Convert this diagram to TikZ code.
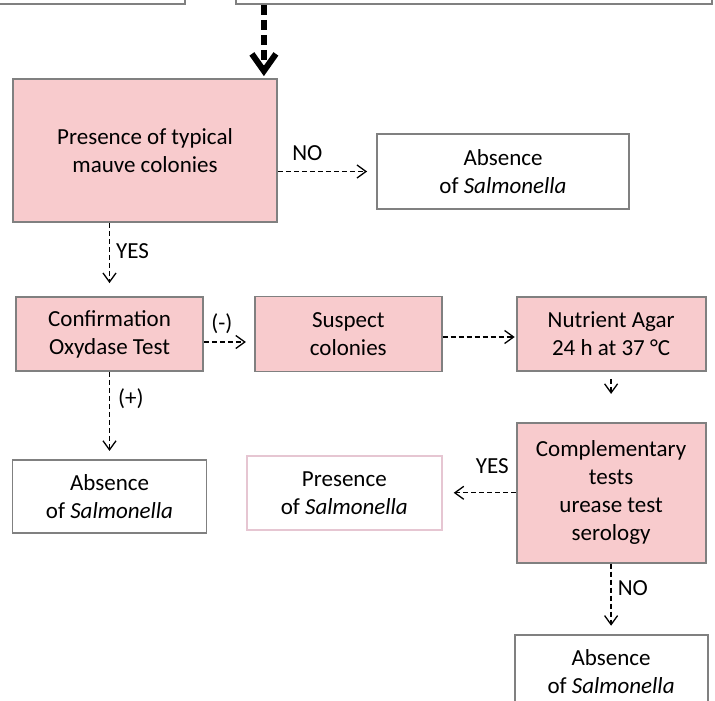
\documentclass[tikz,border=0pt]{standalone}
\usepackage{fontspec}
\setmainfont{Carlito}
\usetikzlibrary{positioning, arrows.meta}

\definecolor{boxpink}{HTML}{F8CBCD}
\definecolor{boxgray}{HTML}{808080}
\definecolor{lightrose}{HTML}{E6C6D2}

\begin{document}
\begin{tikzpicture}[x=1pt, y=-1pt, >={Straight Barb[length=9pt, width=13pt]},
    box/.style={rectangle, draw=boxgray, line width=1.8pt, align=center, inner sep=0pt,
        font=\fontsize{23}{28}\selectfont},
    pinkbox/.style={box, fill=boxpink},
    whitebox/.style={box, fill=white},
    lbl/.style={inner sep=2pt, font=\fontsize{23}{28}\selectfont},
    thin dash/.style={line width=1.3pt, dash pattern=on 5pt off 3pt}]
    \useasboundingbox (0,0) rectangle (715,701);

    \node[whitebox, minimum width=190pt, minimum height=44pt] (topL) at (90,-18) {};
    \node[whitebox, minimum width=476pt, minimum height=44pt] (topR) at (474,-18) {};
    \node[pinkbox, minimum width=264pt, minimum height=143pt] (mauve) at (145,150.5) {Presence of typical\\mauve colonies};
    \node[whitebox, minimum width=252pt, minimum height=75pt] (absA) at (503,171.5) {Absence\\of \textit{Salmonella}};
    \node[pinkbox, minimum width=187pt, minimum height=74pt] (conf) at (109.5,334) {Confirmation\\Oxydase Test};
    \node[pinkbox, minimum width=187pt, minimum height=75pt] (susp) [right=50pt of conf] {Suspect\\colonies};
    \node[pinkbox, minimum width=189pt, minimum height=74pt] (nutr) [right=73pt of susp] {Nutrient Agar\\24 h at 37 °C};
    \node[pinkbox, minimum width=189pt, minimum height=140pt] (comp) [below=50pt of nutr] {Complementary\\tests\\urease test\\serology};
    \node[box, draw=lightrose, fill=white, minimum width=195pt, minimum height=74pt] (pres) [left=73pt of comp] {Presence\\of \textit{Salmonella}};
    \node[whitebox, minimum width=194pt, minimum height=73pt] (absB) [below=87pt of conf] {Absence\\of \textit{Salmonella}};
    \node[whitebox, minimum width=193pt, minimum height=74pt] (absC) [below=70pt of comp] {Absence\\of \textit{Salmonella}};

    \coordinate (tip) at ([xshift=-14pt]mauve.north east);
    \draw[line width=6pt, dash pattern=on 10pt off 5pt, -{Straight Barb[length=17pt, width=24pt]}, shorten >=2pt]
        (topR.south -| tip) -- (tip);

    \path[->, thin dash]
    (mauve.east |- absA.west) edge[shorten >=9pt] node[lbl, above=8pt, pos=0.3] {NO} (absA.west)
    (conf.north |- mauve.south) edge[shorten >=13pt] node[lbl, right=4pt, pos=0.38] {YES} (conf.north)
    ([yshift=-8pt]conf.east) edge[shorten >=8pt] node[lbl, above=6pt, pos=0.36] {(-)} ([yshift=-8pt]susp.west)
    ([yshift=-3pt]susp.east) edge[shorten >=1pt] ([yshift=-3pt]susp.east -| nutr.west)
    (nutr.south) edge[shorten <=7pt, shorten >=28pt] (comp.north)
    (comp.west) edge[shorten >=11pt] node[lbl, above=16pt, pos=0.32] {YES} (comp.west -| pres.east)
    (conf.south) edge[shorten >=8pt] node[lbl, right=6pt, pos=0.31] {(+)} (absB.north)
    (comp.south) edge[shorten >=8pt] node[lbl, right=4pt, pos=0.35] {NO} (comp.south |- absC.north);
\end{tikzpicture}
\end{document}
